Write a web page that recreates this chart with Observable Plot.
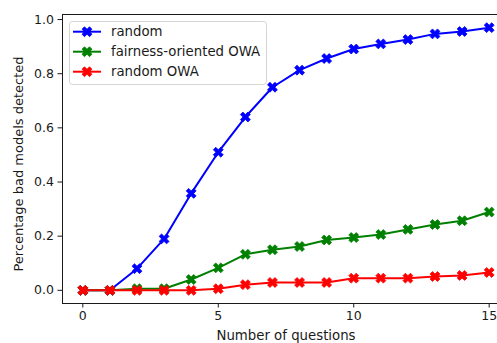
<!DOCTYPE html>
<html>
<head>
<meta charset="utf-8">
<script src="https://cdn.jsdelivr.net/npm/d3@7"></script>
<script src="https://cdn.jsdelivr.net/npm/@observablehq/plot@0.6"></script>
<style>
  html, body { margin: 0; padding: 0; background: #fff; overflow: hidden; width: 497px; height: 343px; }
  #chart { width: 510px; height: 343px; }
  #chart svg { display: block; max-width: none !important; width: 510px; height: 343px; }
</style>
</head>
<body>
<div id="chart"></div>
<script>
const questions = [0, 1, 2, 3, 4, 5, 6, 7, 8, 9, 10, 11, 12, 13, 14, 15];
const seriesNames = ["random", "fairness-oriented OWA", "random OWA"];
const seriesColors = ["#0000ff", "#008000", "#ff0000"];
const randomValues = [0, 0, 0.08, 0.19, 0.358, 0.51, 0.64, 0.75, 0.813, 0.856, 0.891, 0.91, 0.926, 0.947, 0.956, 0.97];
const fairnessOwaValues = [0, 0, 0.006, 0.006, 0.04, 0.083, 0.133, 0.15, 0.162, 0.186, 0.195, 0.206, 0.225, 0.243, 0.257, 0.289];
const randomOwaValues = [0, 0, 0, 0, 0, 0.006, 0.021, 0.029, 0.029, 0.029, 0.045, 0.045, 0.045, 0.051, 0.055, 0.066];
const xTicks = [0, 5, 10, 15];
const yTicks = [0, 0.2, 0.4, 0.6, 0.8, 1.0];
const xLabel = "Number of questions";
const yLabel = "Percentage bad models detected";

const allValues = [randomValues, fairnessOwaValues, randomOwaValues];
const series = seriesNames.map((name, i) => questions.map((q, j) => ({x: q, y: allValues[i][j], name})));

// matplotlib-like filled "X" marker
const xMarker = {
  draw(ctx, size) {
    const r = Math.sqrt(size / Math.PI);
    const b = 1.1 * r, a = 0.36 * r;
    const pts = [[-b,-a],[-a,-a],[-a,-b],[a,-b],[a,-a],[b,-a],[b,a],[a,a],[a,b],[-a,b],[-a,a],[-b,a]]
      .map(([x, y]) => [(x - y) / Math.SQRT2, (x + y) / Math.SQRT2]);
    ctx.moveTo(pts[0][0], pts[0][1]);
    for (let k = 1; k < pts.length; k++) ctx.lineTo(pts[k][0], pts[k][1]);
    ctx.closePath();
  }
};

const fontFamily = "'DejaVu Sans', sans-serif";
const marks = [];
series.forEach((s, i) => {
  marks.push(Plot.line(s, {x: "x", y: "y", stroke: seriesColors[i], strokeWidth: 2}));
  marks.push(Plot.dot(s, {x: "x", y: "y", symbol: xMarker, r: 4.8, fill: seriesColors[i], stroke: seriesColors[i], strokeWidth: 0.8}));
});

const svg = Plot.plot({
  width: 510,
  height: 343,
  marginLeft: 62,
  marginRight: 1,
  marginTop: 14,
  marginBottom: 40,
  style: {fontFamily, color: "#1a1a1a", background: "#fff", overflow: "visible", maxWidth: "none"},
  x: {domain: [-0.75, 15.75]},
  y: {domain: [-0.0486, 1.0186]},
  marks: [
    Plot.axisX({ticks: xTicks, tickSize: 4.5, tickPadding: 3, fontSize: 12.5, label: null, stroke: "#1a1a1a"}),
    Plot.axisY({ticks: yTicks, tickSize: 4.5, tickPadding: 4, fontSize: 12.5, tickFormat: d3.format(".1f"), label: null, stroke: "#1a1a1a"}),
    ...marks,
    Plot.frame({stroke: "#1a1a1a", strokeWidth: 1}),
    Plot.text([xLabel], {frameAnchor: "bottom", textAnchor: "middle", dy: 32, fontSize: 13.3, lineAnchor: "middle", fill: "#1a1a1a"}),
    Plot.text([yLabel], {frameAnchor: "left", textAnchor: "middle", dx: -44, dy: 5, rotate: -90, fontSize: 13, lineAnchor: "middle", fill: "#1a1a1a"})
  ]
});

// Legend (upper-left, matplotlib style)
const g = d3.select(svg).append("g").attr("font-family", fontFamily).attr("font-size", 13.3).attr("text-anchor", "start");
g.append("rect").attr("x", 69.5).attr("y", 21.5).attr("width", 197).attr("height", 63).attr("rx", 3)
  .attr("fill", "#fff").attr("fill-opacity", 0.8).attr("stroke", "#d5d5d5");
const markerPath = d3.symbol(xMarker, Math.PI * 4.8 * 4.8)();
seriesNames.forEach((name, i) => {
  const y = 31.7 + i * 20;
  g.append("line").attr("x1", 73).attr("x2", 101).attr("y1", y).attr("y2", y).attr("stroke", seriesColors[i]).attr("stroke-width", 2);
  g.append("path").attr("d", markerPath).attr("transform", `translate(87,${y})`).attr("fill", seriesColors[i]).attr("stroke", seriesColors[i]).attr("stroke-width", 0.8);
  g.append("text").attr("x", 111).attr("y", y).attr("dy", "0.35em").attr("text-anchor", "start").attr("fill", "#1a1a1a").text(name);
});

document.getElementById("chart").appendChild(svg);
</script>
</body>
</html>
